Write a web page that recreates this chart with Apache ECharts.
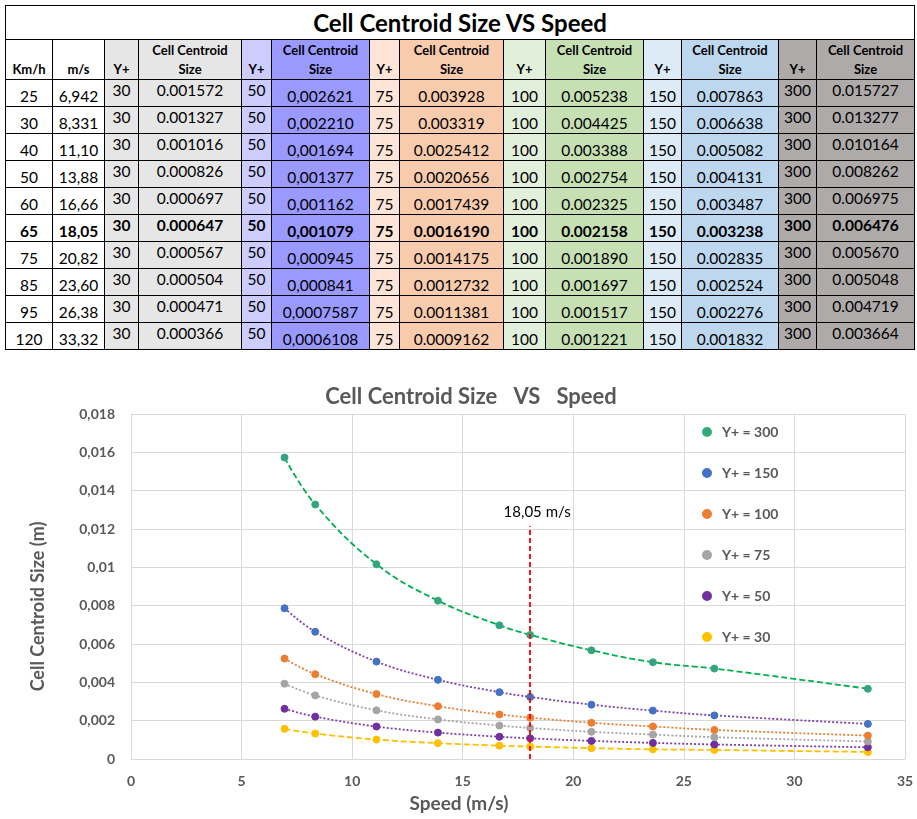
<!DOCTYPE html>
<html>
<head>
<meta charset="utf-8">
<script src="https://cdn.jsdelivr.net/npm/echarts@6/dist/echarts.min.js"></script>
<style>
  html, body { margin: 0; padding: 0; background: #fff; width: 917px; height: 819px; overflow: hidden; }
  body { font-family: Lato, "Open Sans", sans-serif; position: relative; }
  #tbl { position: absolute; left: 5px; top: 5px; border-collapse: collapse; table-layout: fixed; width: 910px; }
  #tbl td { border: 1px solid #000; padding: 0 2px; text-align: center; overflow: hidden; white-space: nowrap; color: #000; }
  #tbl td.title { height: 33px; font-size: 24px; font-weight: bold; background: #fff; vertical-align: middle; line-height: 28px; }
  #tbl tr.hdr td { height: 39px; font-size: 13px; font-weight: bold; vertical-align: bottom; line-height: 19px; white-space: normal; }
  #tbl tr.row td { height: 25px; font-size: 15.5px; line-height: 18px; }
  #tbl tr.bold td { font-weight: bold; }
  #tbl td.top { vertical-align: top; padding-top: 1px; padding-bottom: 0; }
  #tbl td.bot { vertical-align: bottom; padding-bottom: 1px; padding-top: 0; }
  #chart { position: absolute; left: 0; top: 355px; width: 917px; height: 464px; }
</style>
</head>
<body>
<table id="tbl"></table>
<div id="chart"></div>
<script>
// ---- data (as printed in the table) ----
var kmh = ['25','30','40','50','60','65','75','85','95','120'];
var ms  = ['6,942','8,331','11,10','13,88','16,66','18,05','20,82','23,60','26,38','33,32'];
var yPlusLevels = ['30','50','75','100','150','300'];
var size30  = ['0.001572','0.001327','0.001016','0.000826','0.000697','0.000647','0.000567','0.000504','0.000471','0.000366'];
var size50  = ['0,002621','0,002210','0,001694','0,001377','0,001162','0,001079','0,000945','0,000841','0,0007587','0,0006108'];
var size75  = ['0.003928','0.003319','0.0025412','0.0020656','0.0017439','0.0016190','0.0014175','0.0012732','0.0011381','0.0009162'];
var size100 = ['0.005238','0.004425','0.003388','0.002754','0.002325','0.002158','0.001890','0.001697','0.001517','0.001221'];
var size150 = ['0.007863','0.006638','0.005082','0.004131','0.003487','0.003238','0.002835','0.002524','0.002276','0.001832'];
var size300 = ['0.015727','0.013277','0.010164','0.008262','0.006975','0.006476','0.005670','0.005048','0.004719','0.003664'];
var highlightSpeed = '18,05';
var xTicks = { min: 0, max: 35, interval: 5 };
var yTicks = { min: 0, max: 0.018, interval: 0.002 };

function num(s) { return parseFloat(String(s).replace(',', '.')); }

// ---- table ----
var sizeCols = [size30, size50, size75, size100, size150, size300];
var colW = [47, 52, 34, 103, 30, 98, 30, 104, 42, 98, 38, 97, 38, 98];
var yBg = ['#e7e6e6', '#ccccff', '#fce4d6', '#e2efda', '#ddebf7', '#aeaaaa'];
var sBg = ['#e7e6e6', '#9999ff', '#f8cbad', '#c6e0b4', '#bdd7ee', '#aeaaaa'];
var yAlign = ['top', 'top', 'bot', 'bot', 'bot', 'top'];
var sAlign = ['top', 'bot', 'bot', 'bot', 'bot', 'top'];
var html = '<colgroup>' + colW.map(function (w) { return '<col style="width:' + w + 'px">'; }).join('') + '</colgroup>';
html += '<tr><td class="title" colspan="14">Cell Centroid Size VS Speed</td></tr>';
html += '<tr class="hdr"><td>Km/h</td><td>m/s</td>';
for (var c = 0; c < 6; c++) {
  html += '<td style="background:' + yBg[c] + '">Y+</td><td style="background:' + sBg[c] + '">Cell Centroid<br>Size</td>';
}
html += '</tr>';
for (var r = 0; r < kmh.length; r++) {
  html += '<tr class="row' + (ms[r] === highlightSpeed ? ' bold' : '') + '"><td class="bot">' + kmh[r] + '</td><td class="bot">' + ms[r] + '</td>';
  for (var c2 = 0; c2 < 6; c2++) {
    html += '<td class="' + yAlign[c2] + '" style="background:' + yBg[c2] + '">' + yPlusLevels[c2] + '</td>';
    html += '<td class="' + sAlign[c2] + '" style="background:' + sBg[c2] + '">' + sizeCols[c2][r] + '</td>';
  }
  html += '</tr>';
}
document.getElementById('tbl').innerHTML = html;

// ---- chart ----
var speeds = ms.map(num);
function pts(arr) { return arr.map(function (s, i) { return [speeds[i], num(s)]; }); }

var styles = {
  '300': { marker: '#3a9e8c', border: '#2fb36a', line: '#00b050', type: [6, 3] },
  '150': { marker: '#4472c4', border: '#4472c4', line: '#7d3fb3', type: [2, 2] },
  '100': { marker: '#ed7d31', border: '#ed7d31', line: '#ed7d31', type: [2, 2] },
  '75':  { marker: '#a5a5a5', border: '#a5a5a5', line: '#a5a5a5', type: [2, 2] },
  '50':  { marker: '#7030a0', border: '#7030a0', line: '#7d3fb3', type: [2, 2] },
  '30':  { marker: '#ffc000', border: '#ffc000', line: '#ffc000', type: [6, 3] }
};

var font = 'Lato, "Open Sans", sans-serif';
var series = yPlusLevels.map(function (lv, i) {
  var st = styles[lv];
  var s = {
    name: 'Y+ = ' + lv,
    type: 'line',
    data: pts(sizeCols[i]),
    smooth: 0.4,
    symbol: 'circle',
    symbolSize: 7,
    z: 3,
    itemStyle: { color: st.marker, borderColor: st.border, borderWidth: 1 },
    lineStyle: { color: st.line, width: 1.8, type: st.type },
    emphasis: { disabled: true },
    animation: false
  };
  if (lv === '300') {
    s.markLine = {
      silent: true,
      symbol: ['none', 'none'],
      lineStyle: { color: '#ff0000', type: [5, 3], width: 1.8 },
      label: { show: true, position: 'end', formatter: highlightSpeed + ' m/s', color: '#000', fontSize: 15, fontFamily: font, distance: 6, padding: [0, 0, 0, 14] },
      data: [[{ coord: [num(highlightSpeed), 0] }, { coord: [num(highlightSpeed), 0.01215] }]]
    };
  }
  return s;
});

var chart = echarts.init(document.getElementById('chart'), null, { renderer: 'canvas' });
chart.setOption({
  backgroundColor: '#fff',
  animation: false,
  textStyle: { fontFamily: font },
  title: {
    text: 'Cell Centroid Size   VS   Speed',
    left: 466, textAlign: 'center', top: 26,
    textStyle: { color: '#595959', fontSize: 22, fontWeight: 'bold', fontFamily: font }
  },
  grid: { left: 131, right: 12, top: 59, bottom: 60, containLabel: false },
  legend: {
    orient: 'vertical',
    left: 697, top: 65,
    itemGap: 27,
    icon: 'circle',
    itemWidth: 8, itemHeight: 8,
    data: ['Y+ = 300', 'Y+ = 150', 'Y+ = 100', 'Y+ = 75', 'Y+ = 50', 'Y+ = 30'],
    textStyle: { color: '#595959', fontSize: 14, fontWeight: 'bold', fontFamily: font, padding: [0, 0, 0, 6] }
  },
  xAxis: {
    type: 'value', min: xTicks.min, max: xTicks.max, interval: xTicks.interval,
    name: 'Speed (m/s)', nameLocation: 'middle', nameGap: 35,
    nameTextStyle: { color: '#595959', fontSize: 19, fontWeight: 'bold', fontFamily: font, padding: [0, 118, 0, 0] },
    axisLine: { show: true, lineStyle: { color: '#d9d9d9' } },
    axisTick: { show: false },
    axisLabel: { color: '#595959', fontSize: 14, fontWeight: 'bold', margin: 15, fontFamily: font },
    splitLine: { show: true, lineStyle: { color: '#d9d9d9' } }
  },
  yAxis: {
    type: 'value', min: yTicks.min, max: yTicks.max, interval: yTicks.interval,
    name: 'Cell Centroid Size (m)', nameLocation: 'middle', nameGap: 84,
    nameTextStyle: { color: '#595959', fontSize: 18, fontWeight: 'bold', fontFamily: font, padding: [0, 40, 0, 0] },
    axisLine: { show: true, lineStyle: { color: '#d9d9d9' } },
    axisTick: { show: false },
    axisLabel: {
      color: '#595959', fontSize: 14, fontWeight: 'bold', margin: 16, fontFamily: font,
      formatter: function (v) { return String(+v.toFixed(4)).replace('.', ','); }
    },
    splitLine: { show: true, lineStyle: { color: '#d9d9d9' } }
  },
  series: series
});
</script>
</body>
</html>
